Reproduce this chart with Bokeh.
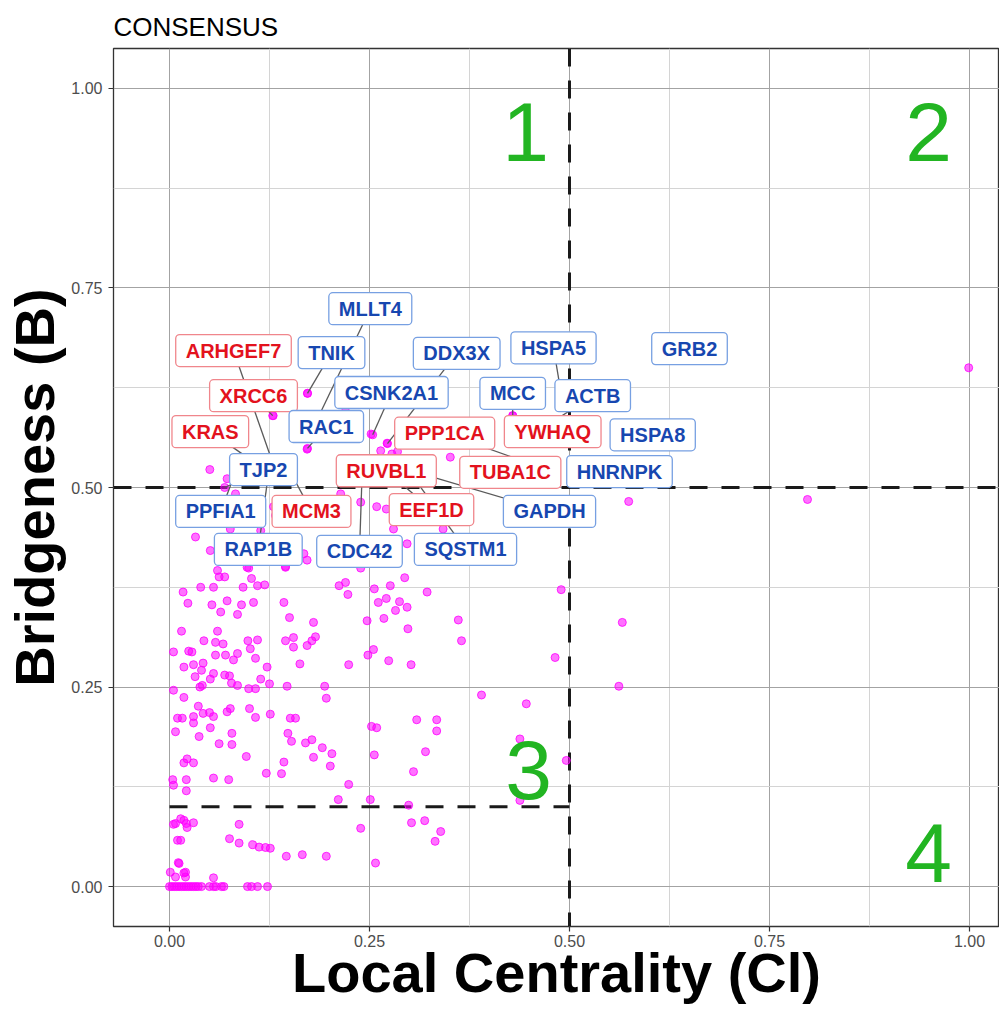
import numpy as np
from bokeh.plotting import figure
from bokeh.models import ColumnDataSource, Span, FixedTicker, NumeralTickFormatter, Range1d
from bokeh.core.properties import value
from bokeh.embed import file_html
from bokeh.resources import INLINE

# ---------------- data ----------------
local_centrality = [
    0.060, 0.062, 0.069, 0.099, 0.1025, 0.145, 0.172, 0.239, 0.212, 0.220, 0.223, 0.294,
    0.039, 0.055, 0.017, 0.092, 0.110, 0.119, 0.256, 0.276, 0.322, 0.023, 0.053, 0.072,
    0.064, 0.090, 0.105, 0.085, 0.143, 0.150, 0.180, 0.247, 0.268, 0.261, 0.271, 0.2875,
    0.297, 0.2825, 0.298, 0.361, 0.365, 0.015, 0.060, 0.043, 0.0575, 0.067, 0.098, 0.110,
    0.101, 0.145, 0.155, 0.155, 0.172, 0.178, 0.1825, 0.255, 0.248, 0.274, 0.302, 0.224,
    0.163, 0.005, 0.024, 0.028, 0.0575, 0.070, 0.085, 0.080, 0.1075, 0.122, 0.018, 0.030,
    0.042, 0.040, 0.032, 0.051, 0.055, 0.069, 0.075, 0.0775, 0.085, 0.114, 0.125, 0.038,
    0.041, 0.005, 0.018, 0.099, 0.1075, 0.147, 0.194, 0.196, 0.390, 0.036, 0.042, 0.050,
    0.055, 0.072, 0.076, 0.100, 0.1075, 0.126, 0.151, 0.1575, 0.010, 0.016, 0.030, 0.030,
    0.0075, 0.051, 0.037, 0.078, 0.078, 0.062, 0.096, 0.148, 0.1525, 0.170, 0.178, 0.191,
    0.203, 0.180, 0.143, 0.201, 0.121, 0.140, 0.2525, 0.259, 0.256, 0.309, 0.334, 0.334,
    0.320, 0.305, 0.018, 0.022, 0.030, 0.004, 0.005, 0.021, 0.021, 0.055, 0.074, 0.224,
    0.211, 0.251, 0.299,
    0.005, 0.014, 0.018, 0.021, 0.022, 0.030, 0.0075, 0.087, 0.239, 0.3025, 0.319, 0.339,
    0.332, 0.010, 0.014, 0.075, 0.087, 0.104, 0.112, 0.120, 0.126, 0.146, 0.166, 0.196,
    0.2575, 0.012, 0.001, 0.018, 0.020, 0.0075, 0.011, 0.020, 0.055,
    0.000, 0.003, 0.006, 0.009, 0.012, 0.015, 0.018, 0.021, 0.024, 0.027, 0.030, 0.033,
    0.036, 0.040, 0.050, 0.055, 0.058, 0.065, 0.068, 0.0975, 0.1025, 0.110, 0.1225,
    0.4896, 0.566, 0.482, 0.5617, 0.446, 0.438, 0.496, 0.438, 0.574, 0.7975, 0.999,
    0.1296, 0.172, 0.252, 0.272, 0.264, 0.278, 0.285, 0.351, 0.0504, 0.072, 0.0825, 0.130,
    0.1325, 0.214, 0.239, 0.259, 0.271, 0.280, 0.297, 0.342, 0.0325, 0.076, 0.114, 0.051,
    0.168, 0.097, 0.145, 0.220, 0.429, 0.1725,
]
bridgeness = [
    0.396, 0.388, 0.388, 0.399, 0.386, 0.401, 0.409, 0.399, 0.377, 0.381, 0.366, 0.387,
    0.375, 0.375, 0.369, 0.375, 0.377, 0.378, 0.373, 0.377, 0.369, 0.355, 0.353, 0.358,
    0.344, 0.353, 0.356, 0.341, 0.356, 0.337, 0.331, 0.333, 0.336, 0.356, 0.361, 0.357,
    0.350, 0.346, 0.323, 0.334, 0.308, 0.320, 0.320, 0.308, 0.306, 0.304, 0.308, 0.309,
    0.298, 0.308, 0.312, 0.300, 0.302, 0.308, 0.313, 0.297, 0.290, 0.283, 0.278, 0.278,
    0.279, 0.294, 0.295, 0.294, 0.290, 0.290, 0.292, 0.284, 0.286, 0.275, 0.275, 0.278,
    0.280, 0.271, 0.263, 0.260, 0.267, 0.265, 0.264, 0.255, 0.252, 0.260, 0.254, 0.250,
    0.252, 0.246, 0.237, 0.248, 0.248, 0.251, 0.251, 0.236, 0.240, 0.226, 0.217, 0.218,
    0.213, 0.219, 0.223, 0.223, 0.212, 0.216, 0.211, 0.211, 0.211, 0.211, 0.213, 0.205,
    0.194, 0.199, 0.188, 0.192, 0.178, 0.179, 0.163, 0.192, 0.182, 0.180, 0.184, 0.174,
    0.1665, 0.162, 0.156, 0.151, 0.142, 0.1415, 0.2007, 0.199, 0.165, 0.209, 0.209, 0.195,
    0.169, 0.144, 0.155, 0.160, 0.155, 0.134, 0.127, 0.134, 0.120, 0.136, 0.134, 0.128,
    0.109, 0.109, 0.102,
    0.078, 0.085, 0.083, 0.079, 0.074, 0.080, 0.079, 0.078, 0.073, 0.080, 0.0826, 0.069,
    0.0567, 0.058, 0.058, 0.060, 0.0545, 0.0525, 0.0495, 0.049, 0.048, 0.038, 0.040, 0.038,
    0.0295, 0.029, 0.018, 0.017, 0.012, 0.012, 0.030, 0.018, 0.011,
    0.0, 0.0, 0.0, 0.0, 0.0, 0.0, 0.0, 0.0, 0.0, 0.0, 0.0, 0.0,
    0.0, 0.0, 0.0, 0.0, 0.0, 0.0, 0.0, 0.0, 0.0, 0.0, 0.0,
    0.372, 0.331, 0.287, 0.251, 0.229, 0.185, 0.158, 0.108, 0.4825, 0.485, 0.650,
    0.590, 0.548, 0.567, 0.5555, 0.546, 0.542, 0.545, 0.538, 0.5225, 0.511, 0.492, 0.476,
    0.465, 0.492, 0.4816, 0.476, 0.473, 0.448, 0.4295, 0.448, 0.438, 0.448, 0.446, 0.421,
    0.417, 0.400, 0.400, 0.600, 0.590, 0.618,
]

# gene labels (label box position in data units) and their group
genes = ["MLLT4", "ARHGEF7", "TNIK", "XRCC6", "CSNK2A1", "KRAS", "RAC1", "DDX3X",
         "HSPA5", "GRB2", "MCC", "ACTB", "PPP1CA", "YWHAQ", "HSPA8", "TJP2",
         "RUVBL1", "TUBA1C", "HNRNPK", "PPFIA1", "MCM3", "EEF1D", "GAPDH",
         "RAP1B", "CDC42", "SQSTM1"]
label_cl = [0.251, 0.080, 0.2025, 0.105, 0.2775, 0.051, 0.196, 0.359,
            0.480, 0.650, 0.429, 0.529, 0.344, 0.479, 0.604, 0.1175,
            0.271, 0.426, 0.5625, 0.064, 0.1775, 0.3275, 0.475,
            0.111, 0.2375, 0.370]
label_br = [0.724, 0.6716, 0.669, 0.615, 0.619, 0.570, 0.5764, 0.668,
            0.675, 0.674, 0.618, 0.615, 0.568, 0.570, 0.566, 0.5225,
            0.521, 0.519, 0.520, 0.470, 0.470, 0.4724, 0.470,
            0.4224, 0.420, 0.4224]
gene_group = ["blue", "red", "blue", "red", "blue", "red", "blue", "blue",
              "blue", "blue", "blue", "blue", "red", "red", "blue", "blue",
              "red", "red", "blue", "blue", "red", "red", "blue",
              "blue", "blue", "blue"]

# genes whose label is joined to its point by a segment
linked_genes = ["MLLT4", "ARHGEF7", "TNIK", "XRCC6", "CSNK2A1", "KRAS", "RAC1", "DDX3X",
                "HSPA5", "MCC", "ACTB", "PPP1CA", "TJP2", "PPFIA1", "MCM3", "RAP1B",
                "CDC42", "RUVBL1", "GAPDH", "SQSTM1"]
linked_cl = [0.184, 0.129, 0.1725, 0.129, 0.254, 0.1025, 0.1725, 0.2725,
             0.489, 0.429, 0.451, 0.4575, 0.069, 0.0825, 0.154, 0.1225,
             0.241, 0.314, 0.326, 0.299]
linked_br = [0.584, 0.531, 0.618, 0.590, 0.566, 0.534, 0.549, 0.555,
             0.621, 0.590, 0.564, 0.5276, 0.500, 0.519, 0.514, 0.509,
             0.524, 0.484, 0.514, 0.521]

tick_values = [0.0, 0.25, 0.5, 0.75, 1.0]
minor_tick_values = [0.125, 0.375, 0.625, 0.875]
cl_threshold = 0.5
br_threshold = 0.5
br_low = 0.1
br_low_span = [0.0, 0.5]

quadrant_names = ["1", "2", "3", "4"]
quadrant_cl = [0.445, 0.949, 0.449, 0.949]
quadrant_br = [0.946, 0.946, 0.146, 0.042]

# ---------------- styles ----------------
FONT = "Liberation Sans"
text_colors = {"red": "#e3121d", "blue": "#1747b0"}
border_colors = {"red": "#f0868c", "blue": "#77a0e2"}
POINT = "#ff00ff"
GREEN = "#22b522"

p = figure(width=999, height=1008,
           x_range=Range1d(-0.07, 1.0375), y_range=Range1d(-0.05, 1.05),
           output_backend="svg", toolbar_location=None,
           min_border_left=113, min_border_right=0,
           min_border_top=48, min_border_bottom=82)

p.title.text = "CONSENSUS"
p.title.text_font = FONT
p.title.text_font_size = "26px"
p.title.text_font_style = "normal"
p.title.text_color = "#000000"
p.title.align = "left"
p.title.standoff = 14

p.background_fill_color = "white"
p.border_fill_color = "white"
p.outline_line_color = "#333333"
p.outline_line_width = 1.3

for ax in (p.xaxis[0], p.yaxis[0]):
    ax.ticker = FixedTicker(ticks=tick_values, minor_ticks=minor_tick_values)
    ax.formatter = NumeralTickFormatter(format="0.00")
    ax.axis_line_color = None
    ax.major_tick_line_color = "#333333"
    ax.major_tick_line_width = 1.2
    ax.major_tick_out = 5
    ax.major_tick_in = 0
    ax.minor_tick_out = 0
    ax.minor_tick_in = 0
    ax.major_label_text_font = FONT
    ax.major_label_text_font_size = "16px"
    ax.major_label_text_color = "#4d4d4d"
    ax.axis_label_text_font = FONT
    ax.axis_label_text_font_size = "56px"
    ax.axis_label_text_font_style = "bold"
    ax.axis_label_text_color = "#000000"
p.xaxis.major_label_standoff = 3
p.yaxis.major_label_standoff = 6
p.xaxis.axis_label = "Local Centrality (Cl)"
p.yaxis.axis_label = "Bridgeness (B)"
p.xaxis.axis_label_standoff = -9
p.yaxis.axis_label_standoff = 2

for g in (p.xgrid[0], p.ygrid[0]):
    g.grid_line_color = "#a3a3a3"
    g.grid_line_width = 1
    g.minor_grid_line_color = "#d4d4d4"
    g.minor_grid_line_width = 1

DASH = "18 14"
p.add_layout(Span(location=cl_threshold, dimension="height", line_color="#1a1a1a",
                  line_width=3, line_dash=DASH, level="underlay"))
p.add_layout(Span(location=br_threshold, dimension="width", line_color="#1a1a1a",
                  line_width=3, line_dash=DASH, level="underlay"))
p.segment(x0=[br_low_span[0]], y0=[br_low], x1=[br_low_span[1]], y1=[br_low],
          line_color="#1a1a1a", line_width=3, line_dash=DASH)

# points
p.scatter(local_centrality, bridgeness, size=8, fill_color=POINT, fill_alpha=0.55,
          line_color=POINT, line_alpha=0.8, line_width=1)
p.scatter(linked_cl, linked_br, size=8, fill_color=POINT, fill_alpha=0.55,
          line_color=POINT, line_alpha=0.8, line_width=1)

# quadrant numbers
p.text(x=quadrant_cl, y=quadrant_br, text=quadrant_names, text_color=GREEN,
       text_font=value(FONT), text_font_size="84px", text_align="center",
       text_baseline="middle")

# segments from labels to points
pos = {g: (x, y) for g, x, y in zip(genes, label_cl, label_br)}
p.segment(x0=[pos[g][0] for g in linked_genes], y0=[pos[g][1] for g in linked_genes],
          x1=linked_cl, y1=linked_br, line_color="#5a5a5a", line_width=1.3)

# gene labels
lab_src = ColumnDataSource(dict(
    x=label_cl, y=label_br, text=genes,
    tc=[text_colors[g] for g in gene_group],
    bc=[border_colors[g] for g in gene_group],
))
p.text(x="x", y="y", text="text", source=lab_src, text_color="tc",
       text_font=value(FONT), text_font_style="bold", text_font_size="20px",
       text_align="center", text_baseline="middle",
       background_fill_color="white", border_line_color="bc", border_line_width=1.3,
       border_radius=4, padding=(10, 5))

open("out.html", "w").write(file_html(p, INLINE))
